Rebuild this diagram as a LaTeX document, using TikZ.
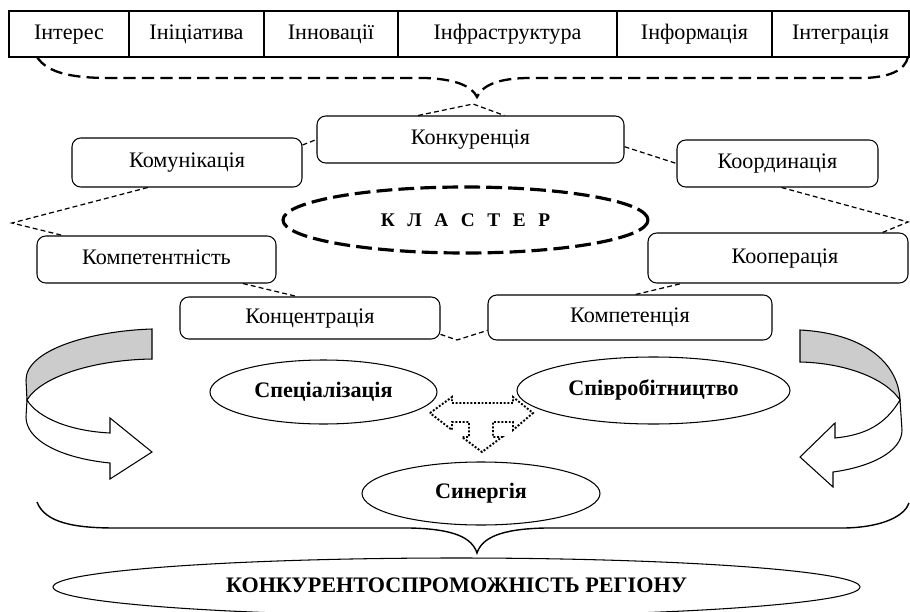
\documentclass[tikz,border=0pt]{standalone}
\usepackage{fontspec}
\setmainfont{Liberation Serif}
\usetikzlibrary{calc,shapes.geometric}
\def\pix{0.02cm}
\def\drawlink{\draw[line width=0.7pt, dash pattern=on 2.8pt off 1.8pt]}
\def\drawbrace{\draw[line width=1.3pt, dash pattern=on 7pt off 3.5pt]}
\def\drawcurl{\draw[line width=0.6pt]}
\tikzset{
  cell/.style={draw, line width=0.6pt, minimum width=#1*\pix, minimum height=46*\pix, inner sep=0pt, text height=8.8pt, text depth=2.8pt},
  rbox/.style 2 args={draw, rounded corners=5pt, line width=0.6pt, minimum width=#1*\pix, minimum height=#2*\pix, inner sep=0pt, text height=8.8pt, text depth=2.8pt},
  oval/.style 2 args={draw, ellipse, line width=0.6pt, minimum width=#1*\pix, minimum height=#2*\pix, inner sep=0pt, text height=8.8pt, text depth=2.8pt, font=\bfseries\fontsize{12.6}{15}\selectfont},
}

\begin{document}
\begin{tikzpicture}[x=0.02cm,y=-0.02cm,every node/.style={font=\fontsize{12.6}{15}\selectfont}]
\useasboundingbox (0,0) rectangle (910,612);
% top row
\foreach \cx/\w/\nm/\txt in {69/120/tint/Інтерес, 196.5/135/tini/Ініціатива, 331/134/tinn/Інновації, 507.5/219/tinf/Інфраструктура, 694.5/155/tinfo/Інформація, 840.5/137/tintg/Інтеграція}
  \node[cell=\w] (\nm) at (\cx,34) {\txt};
\drawbrace (37,57) .. controls (48,74) and (75,78) .. (110,78) -- (425,78) .. controls (455,79) and (472,86) .. (477,97) .. controls (482,86) and (497,78) .. (530,78) -- (860,78) .. controls (890,78) and (905,70) .. (908,57);

% boxes round the cluster
\node[rbox={230}{49}] (komun) at (187,162.5) {Комунікація};
\node[rbox={307}{47}] (konkur) at (470.5,139.5) {Конкуренція};
\node[rbox={201}{47}] (koord) at (777.5,163.5) {Координація};
\node[rbox={239}{47}] (kompt) at (156.5,259.5) {Компетентність};
\node[rbox={260}{50}] (koop) at (778,258) {\hspace*{0.28cm}Кооперація};
\node[rbox={260}{42}] (konc) at (310,318) {Концентрація};
\node[rbox={284}{45}] (kompet) at (630,317.5) {Компетенція};
\node[draw, ellipse, line width=1.8pt, dash pattern=on 9pt off 3.5pt, minimum width=365*\pix, minimum height=66*\pix, font=\bfseries\fontsize{11}{13}\selectfont] (klaster) at (465.5,220) {К\hspace{0.65em}Л\hspace{0.65em}А\hspace{0.65em}С\hspace{0.65em}Т\hspace{0.65em}Е\hspace{0.65em}Р};

\coordinate (peak) at (473,104);
\coordinate (lpt) at (12,223);
\coordinate (rpt) at (908,222);
\coordinate (dip) at (457,340);
\drawlink ($(konkur.north west)!0.33!(konkur.north east)$) -- (peak) -- ($(konkur.north west)!0.61!(konkur.north east)$);
\drawlink ($(komun.north east)!0.15!(komun.south east)$) -- (konkur.west);
\drawlink ($(konkur.north east)!0.65!(konkur.south east)$) -- (koord.west);
\drawlink ($(komun.south west)!0.33!(komun.south east)$) -- (lpt) -- ($(kompt.north west)!0.11!(kompt.north east)$);
\drawlink ($(kompt.south west)!0.86!(kompt.south east)$) -- ($(konc.north west)!0.45!(konc.north east)$);
\drawlink ($(konc.north east)!0.88!(konc.south east)$) -- (dip) -- ($(kompet.north west)!0.78!(kompet.south west)$);
\drawlink ($(kompet.north west)!0.52!(kompet.north east)$) -- ($(koop.south west)!0.13!(koop.south east)$);
\drawlink ($(koord.south west)!0.52!(koord.south east)$) -- (rpt) -- ($(koop.north west)!0.9!(koop.north east)$);

% curved arrows
\drawcurl[fill=black!20] (152,329) .. controls (90,331) and (26,350) .. (26,380) -- (27,400) .. controls (40,378) and (90,360) .. (152,359) -- cycle;
\drawcurl[fill=white] (27,400) .. controls (38,418) and (70,431) .. (110,433) -- (110,418) -- (152,452) -- (110,479) -- (110,463) .. controls (60,458) and (26,440) .. (26,417) -- cycle;
\drawcurl[fill=black!20] (800,330) .. controls (860,333) and (898,360) .. (900,400) .. controls (885,378) and (845,363) .. (800,362) -- cycle;
\drawcurl[fill=white] (900,400) .. controls (885,425) and (865,435) .. (835,438) -- (835,423) -- (800,457) -- (833,487) -- (833,472) .. controls (870,467) and (902,452) .. (902,430) -- cycle;

\node[oval={227}{64}] (spec) at (323.5,392) {Спеціалізація};
\node[oval={273}{67}] (spivr) at (653.5,390.5) {Співробітництво};
\node[oval={238}{63}] (syn) at (481,493.5) {Синергія};
\draw[line width=1.1pt, densely dotted] (430,413) -- (452,397) -- (452,403) -- (513,403) -- (513,397) -- (533,413) -- (513,430) -- (513,422) -- (493,422) -- (493,437) -- (502,437) -- (482,452) -- (462,437) -- (469,437) -- (469,422) -- (452,422) -- (452,430) -- cycle;

% result
\draw[line width=0.8pt] (37,502) .. controls (45,523) and (75,528) .. (115,528) -- (410,528) .. controls (455,529) and (472,538) .. (477,553) .. controls (482,538) and (500,529) .. (545,528) -- (845,528) .. controls (885,527) and (905,515) .. (909,503);
\node[oval={807}{58}] (region) at (456.5,587) {КОНКУРЕНТОСПРОМОЖНІСТЬ РЕГІОНУ};
\end{tikzpicture}
\end{document}
